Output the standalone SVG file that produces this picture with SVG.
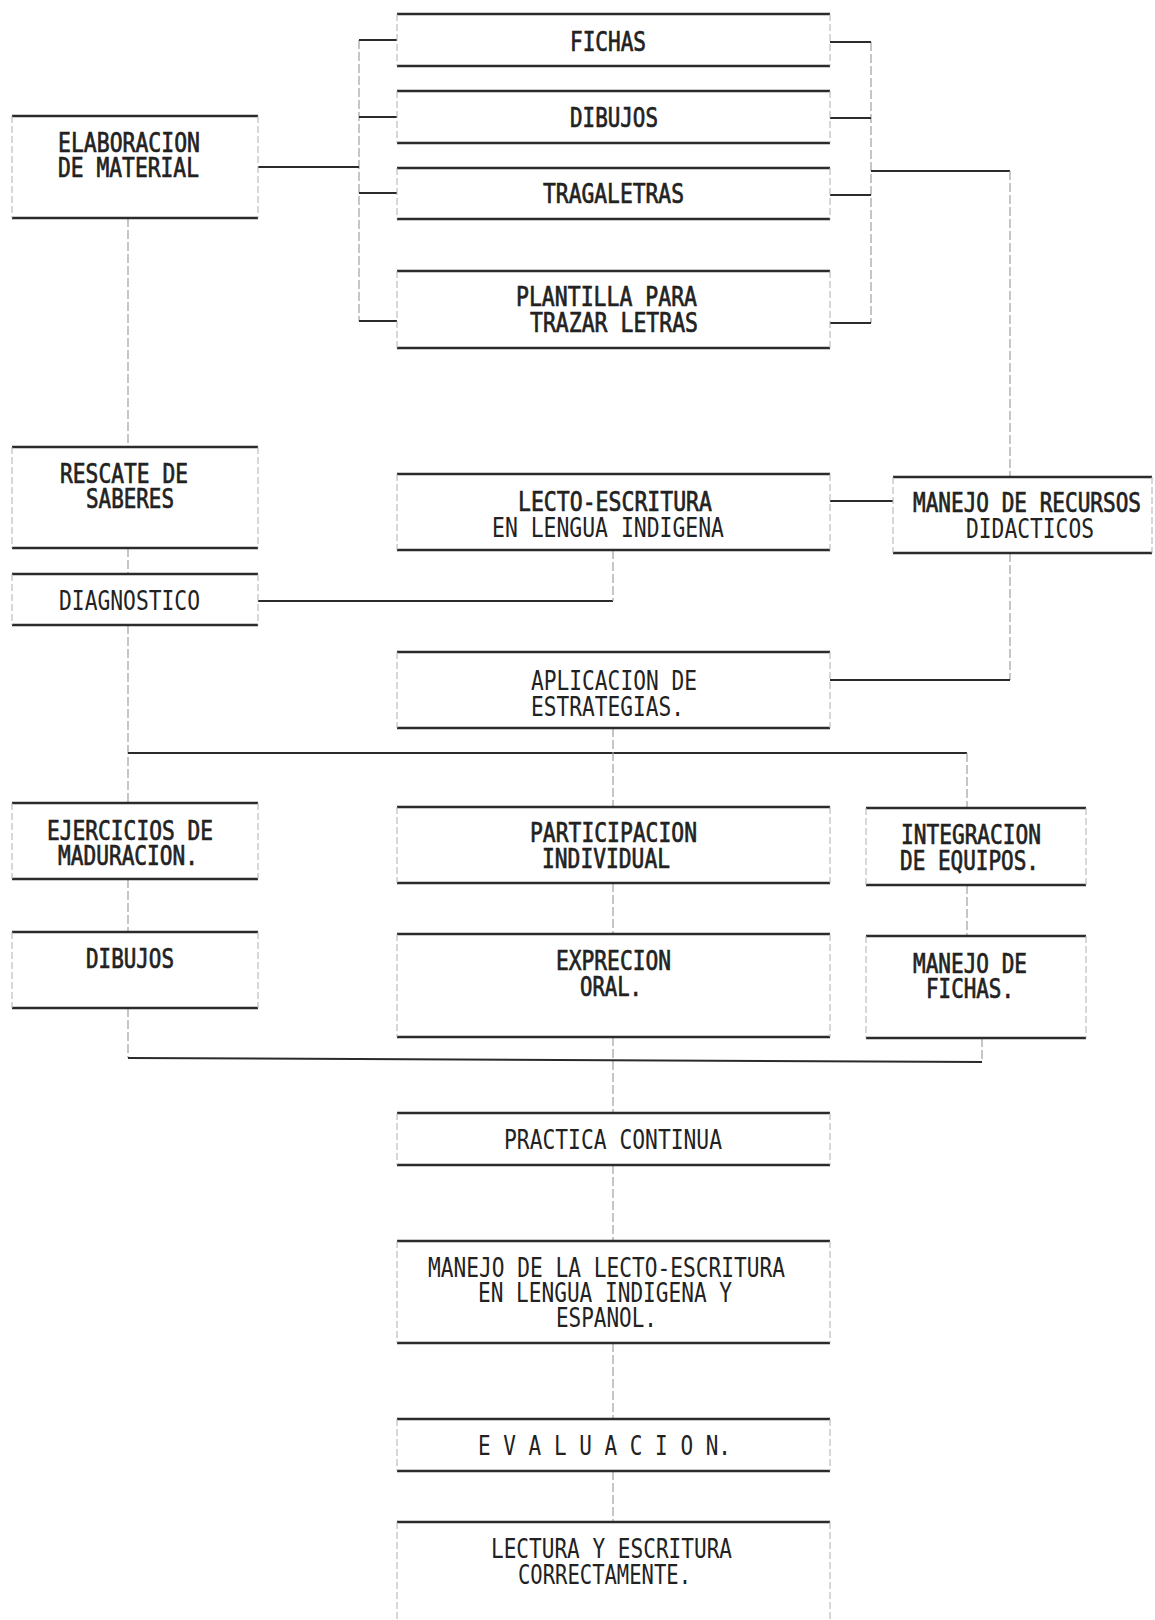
<svg xmlns="http://www.w3.org/2000/svg" width="1155" height="1620" viewBox="0 0 1155 1620">
<style>
.hl{stroke:#2b2b2b;stroke-width:2.5;fill:none}
.vl{stroke:#b0b0b0;stroke-width:1;stroke-dasharray:7 3;fill:none}
.ch{stroke:#2b2b2b;stroke-width:2;fill:none}
.cv{stroke:#a0a0a0;stroke-width:1.2;stroke-dasharray:9 3;fill:none}
text{font-family:"DejaVu Sans Mono","Liberation Mono",monospace;font-size:26px;fill:#222}
.b{stroke:#222;stroke-width:0.7}
</style>
<rect width="1155" height="1620" fill="#fff"/>
<g id="connectors">
<path class="cv" d="M359 40 V321 M871 42 V323"/>
<path class="ch" d="M359 40 H397 M359 117 H397 M359 193 H397 M359 321 H397 M258 167 H359"/>
<path class="ch" d="M830 42 H871 M830 118 H871 M830 195 H871 M830 323 H871 M871 171 H1010"/>
<path class="cv" d="M1010 171 V477 M1010 553 V680"/>
<path class="ch" d="M830 680 H1010"/>
<path class="ch" d="M830 501 H893"/>
<path class="ch" d="M258 601 H613"/>
<path class="cv" d="M613 550 V601"/>
<path class="cv" d="M128 218 V447 M128 548 V574 M128 625 V803 M128 879 V932 M128 1008 V1058"/>
<path class="ch" d="M128 753 H967"/>
<path class="cv" d="M967 753 V808 M967 885 V936"/>
<path class="cv" d="M613 728 V807 M613 883 V934 M613 1037 V1113 M613 1165 V1241 M613 1343 V1419 M613 1471 V1522"/>
<path class="ch" d="M128 1058 L982 1062"/>
<path class="cv" d="M982 1038 V1062"/>
</g>
<g id="n-fichas"><path class="hl" d="M397 14 H830 M397 66 H830"/><path class="vl" d="M397 14 V66 M830 14 V66"/>
<text class="b" x="570" y="51" textLength="76" lengthAdjust="spacingAndGlyphs">FICHAS</text></g>
<g id="n-dibujos1"><path class="hl" d="M397 91 H830 M397 143 H830"/><path class="vl" d="M397 91 V143 M830 91 V143"/>
<text class="b" x="570" y="127" textLength="88" lengthAdjust="spacingAndGlyphs">DIBUJOS</text></g>
<g id="n-tragaletras"><path class="hl" d="M397 168 H830 M397 219 H830"/><path class="vl" d="M397 168 V219 M830 168 V219"/>
<text class="b" x="543" y="203" textLength="141" lengthAdjust="spacingAndGlyphs">TRAGALETRAS</text></g>
<g id="n-plantilla"><path class="hl" d="M397 271 H830 M397 348 H830"/><path class="vl" d="M397 271 V348 M830 271 V348"/>
<text class="b" x="516" y="306" textLength="181" lengthAdjust="spacingAndGlyphs">PLANTILLA PARA</text>
<text class="b" x="530" y="332" textLength="168" lengthAdjust="spacingAndGlyphs">TRAZAR LETRAS</text></g>
<g id="n-elaboracion"><path class="hl" d="M12 116 H258 M12 218 H258"/><path class="vl" d="M12 116 V218 M258 116 V218"/>
<text class="b" x="58" y="152" textLength="142" lengthAdjust="spacingAndGlyphs">ELABORACION</text>
<text class="b" x="58" y="177" textLength="141" lengthAdjust="spacingAndGlyphs">DE MATERIAL</text></g>
<g id="n-rescate"><path class="hl" d="M12 447 H258 M12 548 H258"/><path class="vl" d="M12 447 V548 M258 447 V548"/>
<text class="b" x="60" y="483" textLength="128" lengthAdjust="spacingAndGlyphs">RESCATE DE</text>
<text class="b" x="86" y="508" textLength="88" lengthAdjust="spacingAndGlyphs">SABERES</text></g>
<g id="n-diagnostico"><path class="hl" d="M12 574 H258 M12 625 H258"/><path class="vl" d="M12 574 V625 M258 574 V625"/>
<text x="59" y="610" textLength="141" lengthAdjust="spacingAndGlyphs">DIAGNOSTICO</text></g>
<g id="n-lecto"><path class="hl" d="M397 474 H830 M397 550 H830"/><path class="vl" d="M397 474 V550 M830 474 V550"/>
<text class="b" x="518" y="511" textLength="194" lengthAdjust="spacingAndGlyphs">LECTO-ESCRITURA</text>
<text x="492" y="537" textLength="232" lengthAdjust="spacingAndGlyphs">EN LENGUA INDIGENA</text></g>
<g id="n-recursos"><path class="hl" d="M893 477 H1152 M893 553 H1152"/><path class="vl" d="M893 477 V553 M1152 477 V553"/>
<text class="b" x="913" y="512" textLength="228" lengthAdjust="spacingAndGlyphs">MANEJO DE RECURSOS</text>
<text x="966" y="538" textLength="128" lengthAdjust="spacingAndGlyphs">DIDACTICOS</text></g>
<g id="n-aplicacion"><path class="hl" d="M397 652 H830 M397 728 H830"/><path class="vl" d="M397 652 V728 M830 652 V728"/>
<text x="531" y="690" textLength="166" lengthAdjust="spacingAndGlyphs">APLICACION DE</text>
<text x="531" y="716" textLength="153" lengthAdjust="spacingAndGlyphs">ESTRATEGIAS.</text></g>
<g id="n-ejercicios"><path class="hl" d="M12 803 H258 M12 879 H258"/><path class="vl" d="M12 803 V879 M258 803 V879"/>
<text class="b" x="47" y="840" textLength="166" lengthAdjust="spacingAndGlyphs">EJERCICIOS DE</text>
<text class="b" x="58" y="865" textLength="140" lengthAdjust="spacingAndGlyphs">MADURACION.</text></g>
<g id="n-participacion"><path class="hl" d="M397 807 H830 M397 883 H830"/><path class="vl" d="M397 807 V883 M830 807 V883"/>
<text class="b" x="530" y="842" textLength="167" lengthAdjust="spacingAndGlyphs">PARTICIPACION</text>
<text class="b" x="542" y="868" textLength="128" lengthAdjust="spacingAndGlyphs">INDIVIDUAL</text></g>
<g id="n-integracion"><path class="hl" d="M866 808 H1086 M866 885 H1086"/><path class="vl" d="M866 808 V885 M1086 808 V885"/>
<text class="b" x="901" y="844" textLength="140" lengthAdjust="spacingAndGlyphs">INTEGRACION</text>
<text class="b" x="900" y="870" textLength="139" lengthAdjust="spacingAndGlyphs">DE EQUIPOS.</text></g>
<g id="n-dibujos2"><path class="hl" d="M12 932 H258 M12 1008 H258"/><path class="vl" d="M12 932 V1008 M258 932 V1008"/>
<text class="b" x="86" y="968" textLength="88" lengthAdjust="spacingAndGlyphs">DIBUJOS</text></g>
<g id="n-exprecion"><path class="hl" d="M397 934 H830 M397 1037 H830"/><path class="vl" d="M397 934 V1037 M830 934 V1037"/>
<text class="b" x="556" y="970" textLength="115" lengthAdjust="spacingAndGlyphs">EXPRECION</text>
<text class="b" x="580" y="996" textLength="62" lengthAdjust="spacingAndGlyphs">ORAL.</text></g>
<g id="n-manejofichas"><path class="hl" d="M866 936 H1086 M866 1038 H1086"/><path class="vl" d="M866 936 V1038 M1086 936 V1038"/>
<text class="b" x="913" y="973" textLength="114" lengthAdjust="spacingAndGlyphs">MANEJO DE</text>
<text class="b" x="926" y="998" textLength="88" lengthAdjust="spacingAndGlyphs">FICHAS.</text></g>
<g id="n-practica"><path class="hl" d="M397 1113 H830 M397 1165 H830"/><path class="vl" d="M397 1113 V1165 M830 1113 V1165"/>
<text x="504" y="1149" textLength="218" lengthAdjust="spacingAndGlyphs">PRACTICA CONTINUA</text></g>
<g id="n-manejolecto"><path class="hl" d="M397 1241 H830 M397 1343 H830"/><path class="vl" d="M397 1241 V1343 M830 1241 V1343"/>
<text x="428" y="1277" textLength="357" lengthAdjust="spacingAndGlyphs">MANEJO DE LA LECTO-ESCRITURA</text>
<text x="478" y="1302" textLength="254" lengthAdjust="spacingAndGlyphs">EN LENGUA INDIGENA Y</text>
<text x="556" y="1327" textLength="101" lengthAdjust="spacingAndGlyphs">ESPANOL.</text></g>
<g id="n-evaluacion"><path class="hl" d="M397 1419 H830 M397 1471 H830"/><path class="vl" d="M397 1419 V1471 M830 1419 V1471"/>
<text x="478" y="1455" textLength="253" lengthAdjust="spacingAndGlyphs">E V A L U A C I O N.</text></g>
<g id="n-lectura"><path class="hl" d="M397 1522 H830"/><path class="vl" d="M397 1522 V1620 M830 1522 V1620"/>
<text x="491" y="1558" textLength="241" lengthAdjust="spacingAndGlyphs">LECTURA Y ESCRITURA</text>
<text x="518" y="1584" textLength="173" lengthAdjust="spacingAndGlyphs">CORRECTAMENTE.</text></g>
</svg>
